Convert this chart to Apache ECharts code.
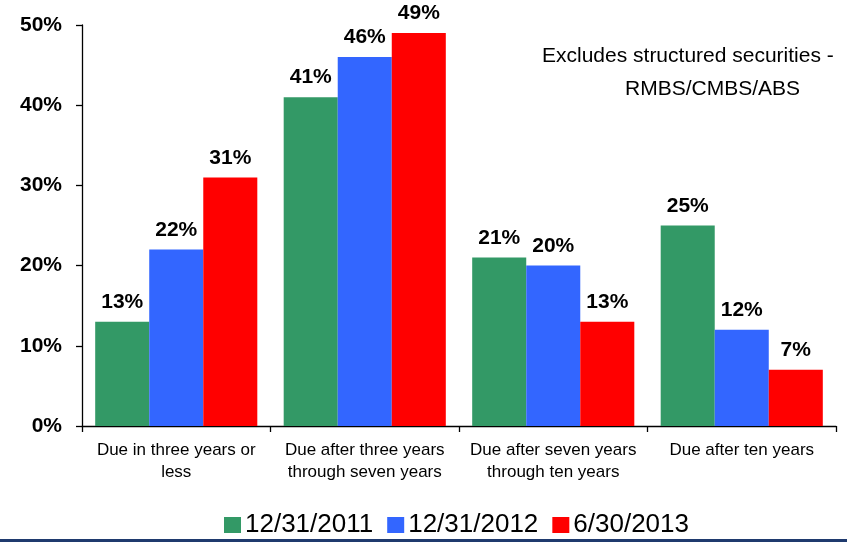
<!DOCTYPE html>
<html>
<head>
<meta charset="utf-8">
<script src="https://cdn.jsdelivr.net/npm/echarts@6/dist/echarts.min.js"></script>
<style>
html,body{margin:0;padding:0;background:#fff;}
#chart{width:847px;height:542px;}
</style>
</head>
<body>
<div id="chart"></div>
<script>
var categories = ['Due in three years or\nless', 'Due after three years\nthrough seven years', 'Due after seven years\nthrough ten years', 'Due after ten years'];
var seriesNames = ['12/31/2011', '12/31/2012', '6/30/2013'];
var values2011 = [13, 41, 21, 25];
var values2012 = [22, 46, 20, 12];
var values2013 = [31, 49, 13, 7];
var colors = ['#339966', '#3366FF', '#FF0000'];
var yTicks = [0, 10, 20, 30, 40, 50];
var noteLines = ['Excludes structured securities -', 'RMBS/CMBS/ABS'];

var FONT = 'Arial, "Liberation Sans", sans-serif';
var chart = echarts.init(document.getElementById('chart'), null, {renderer: 'canvas'});

function mkSeries(name, data, color) {
  return {
    name: name,
    type: 'bar',
    data: data,
    barGap: '0%',
    barCategoryGap: '14%',
    itemStyle: {color: color},
    label: {
      show: true,
      position: 'top',
      distance: 9,
      formatter: '{c}%',
      color: '#000',
      fontFamily: FONT,
      fontWeight: 'bold',
      fontSize: 21
    }
  };
}

chart.setOption({
  animation: false,
  backgroundColor: '#fff',
  grid: {left: 82, right: 11, top: 25, bottom: 116, containLabel: false},
  legend: {
    data: seriesNames,
    top: 507,
    left: 219,
    itemWidth: 17,
    itemHeight: 16,
    itemGap: 14,
    icon: 'rect',
    textStyle: {fontFamily: FONT, fontSize: 26, color: '#000', padding: [0, 0, 0, -1]}
  },
  xAxis: {
    type: 'category',
    data: categories,
    axisLine: {lineStyle: {color: '#000', width: 1.3}},
    axisTick: {show: true, length: 6, lineStyle: {color: '#000', width: 1.3}},
    axisLabel: {
      interval: 0,
      margin: 13,
      fontFamily: FONT,
      fontSize: 17,
      lineHeight: 22,
      color: '#000'
    }
  },
  yAxis: {
    type: 'value',
    min: yTicks[0],
    max: yTicks[yTicks.length - 1],
    interval: 10,
    axisLine: {show: true, lineStyle: {color: '#000', width: 1.3}},
    axisTick: {show: true, length: 6, lineStyle: {color: '#000', width: 1.3}},
    splitLine: {show: false},
    axisLabel: {
      formatter: '{value}%',
      margin: 20,
      fontFamily: FONT,
      fontWeight: 'bold',
      fontSize: 21,
      color: '#000'
    }
  },
  series: [
    mkSeries(seriesNames[0], values2011, colors[0]),
    mkSeries(seriesNames[1], values2012, colors[1]),
    mkSeries(seriesNames[2], values2013, colors[2])
  ],
  graphic: [
    {type: 'text', left: 542, top: 46, style: {text: noteLines[0], font: '21px ' + FONT, fill: '#000'}},
    {type: 'text', left: 625, top: 79, style: {text: noteLines[1], font: '21px ' + FONT, fill: '#000'}},
    {type: 'rect', left: 0, top: 539, shape: {width: 847, height: 3}, style: {fill: '#1F3A6E'}}
  ]
});
</script>
</body>
</html>
